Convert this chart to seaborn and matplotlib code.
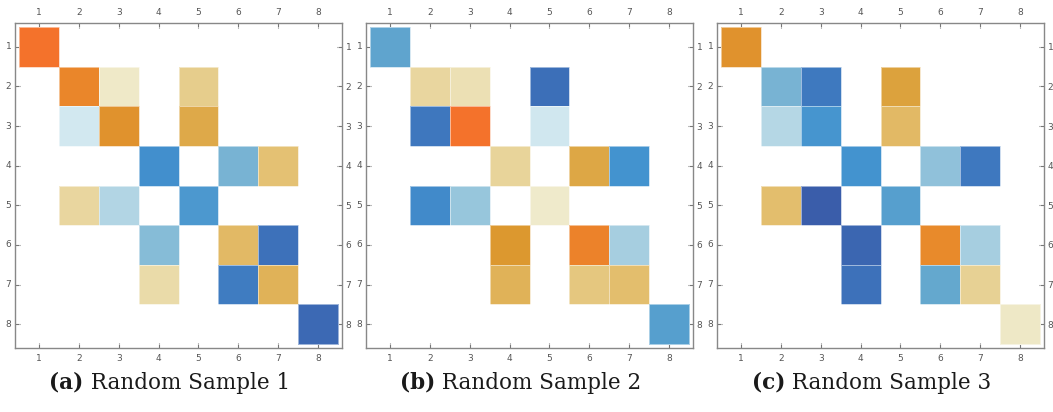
import numpy as np
import pandas as pd
import seaborn as sns
import matplotlib
matplotlib.use("Agg")
import matplotlib.pyplot as plt
from matplotlib.colors import LinearSegmentedColormap

sns.set_theme(style="white")

labels = [1, 2, 3, 4, 5, 6, 7, 8]
captions = [("(a)", "Random Sample 1"), ("(b)", "Random Sample 2"), ("(c)", "Random Sample 3")]

# Nonzero entries of each 8x8 sample: (row, col, value), 1-based
sample_1 = [
    (1, 1, 1.00),
    (2, 2, 0.82), (2, 3, 0.06), (2, 5, 0.25),
    (3, 2, -0.06), (3, 3, 0.68), (3, 5, 0.50),
    (4, 4, -0.62), (4, 6, -0.35), (4, 7, 0.35),
    (5, 2, 0.18), (5, 3, -0.16), (5, 5, -0.55),
    (6, 4, -0.30), (6, 6, 0.40), (6, 7, -0.82),
    (7, 4, 0.15), (7, 6, -0.75), (7, 7, 0.45),
    (8, 8, -0.88),
]
sample_2 = [
    (1, 1, -0.45),
    (2, 2, 0.18), (2, 3, 0.12), (2, 5, -0.83),
    (3, 2, -0.78), (3, 3, 1.00), (3, 5, -0.07),
    (4, 4, 0.20), (4, 6, 0.52), (4, 7, -0.60),
    (5, 2, -0.65), (5, 3, -0.25), (5, 5, 0.05),
    (6, 4, 0.62), (6, 6, 0.85), (6, 7, -0.20),
    (7, 4, 0.45), (7, 6, 0.30), (7, 7, 0.37),
    (8, 8, -0.50),
]
sample_3 = [
    (1, 1, 0.68),
    (2, 2, -0.35), (2, 3, -0.76), (2, 5, 0.55),
    (3, 2, -0.15), (3, 3, -0.58), (3, 5, 0.40),
    (4, 4, -0.60), (4, 6, -0.27), (4, 7, -0.77),
    (5, 2, 0.37), (5, 3, -0.97), (5, 5, -0.50),
    (6, 4, -0.90), (6, 6, 0.78), (6, 7, -0.20),
    (7, 4, -0.82), (7, 6, -0.42), (7, 7, 0.22),
    (8, 8, 0.07),
]
samples = [sample_1, sample_2, sample_3]

cmap = LinearSegmentedColormap.from_list("bwo", [
    (0.000, "#3A5AA8"),
    (0.100, "#3D74BC"),
    (0.200, "#4393CF"),
    (0.300, "#68AACE"),
    (0.400, "#A6CEE0"),
    (0.475, "#D5EAF1"),
    (0.525, "#EFEACB"),
    (0.600, "#E8D49A"),
    (0.700, "#E2BA66"),
    (0.800, "#DA9A30"),
    (0.900, "#E9882A"),
    (1.000, "#F4722B"),
])


def to_frame(entries):
    m = np.full((8, 8), np.nan)
    for r, c, v in entries:
        m[r - 1, c - 1] = v
    return pd.DataFrame(m, index=labels, columns=labels)


fig = plt.figure(figsize=(10.53, 4.12), dpi=100)
W, H = 1053, 412
lefts = [15, 366, 717]
ax_w, ax_h, ax_top = 327, 325, 23

for left, entries in zip(lefts, samples):
    ax = fig.add_axes([left / W, 1 - (ax_top + ax_h) / H, ax_w / W, ax_h / H])
    df = to_frame(entries)
    sns.heatmap(df, ax=ax, cmap=cmap, vmin=-1, vmax=1, cbar=False,
                mask=df.isna(), linewidths=0.6, linecolor=(1, 1, 1, 0.5))
    ax.set_xlabel("")
    ax.set_ylabel("")
    ax.set_xticklabels(labels, rotation=0)
    ax.set_yticklabels(labels, rotation=0)
    ax.tick_params(axis="both", which="both", direction="in", length=3.5, width=0.8,
                   color="#777777", labelcolor="#555555", labelsize=6.5,
                   top=True, bottom=True, left=True, right=True,
                   labeltop=True, labelbottom=True, labelleft=True, labelright=True)
    ax.tick_params(axis="x", pad=4.3)
    ax.tick_params(axis="y", pad=2.6)
    ax.set_xlim(-0.1, 8.1)
    ax.set_ylim(8.1, -0.1)
    for sp in ax.spines.values():
        sp.set_visible(True)
        sp.set_color("#888888")
        sp.set_linewidth(1.0)

# Captions: bold tag followed by regular title, centred under each panel
fig.canvas.draw()
renderer = fig.canvas.get_renderer()
for left, (tag, title) in zip(lefts, captions):
    cx = left + ax_w / 2 - 9
    y = 1 - 383 / H
    t1 = fig.text(0, y, tag, fontsize=15.5, fontweight="bold", family="DejaVu Serif",
                  color="#1a1a1a", va="center", ha="left")
    t2 = fig.text(0, y, " " + title, fontsize=15.5, family="DejaVu Serif",
                  color="#1a1a1a", va="center", ha="left")
    w1 = t1.get_window_extent(renderer).width
    w2 = t2.get_window_extent(renderer).width
    x0 = cx - (w1 + w2) / 2
    t1.set_x(x0 / W)
    t2.set_x((x0 + w1) / W)

fig.savefig("out.png", dpi=100, facecolor="white")
